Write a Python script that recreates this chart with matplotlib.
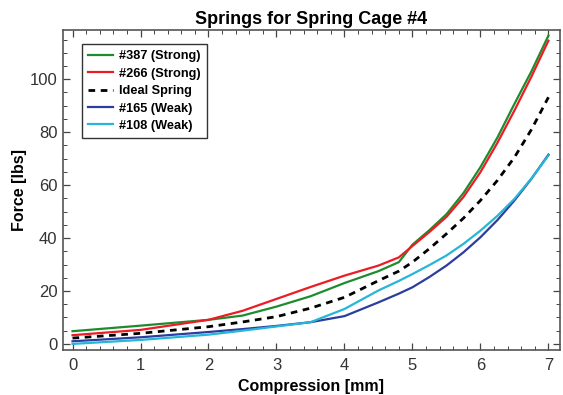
import matplotlib
matplotlib.use("Agg")
import matplotlib.pyplot as plt
from matplotlib.ticker import MultipleLocator

plt.rcParams['font.family'] = ['Liberation Sans', 'DejaVu Sans']

x = [0, 1, 2, 2.5, 3, 3.5, 4, 4.5, 4.8, 5, 5.25, 5.5, 5.75, 6, 6.25, 6.5, 6.75, 7]
s387 = [4.8, 6.9, 9.1, 10.7, 14.1, 18.0, 23.0, 27.5, 30.9, 37.5, 43.0, 49.0, 57.0, 66.8, 78.0, 90.7, 103.0, 116.5]
s266 = [3.3, 5.3, 9.1, 12.5, 17.0, 21.5, 25.8, 29.6, 32.7, 37.0, 42.3, 48.0, 55.5, 64.9, 76.0, 88.2, 101.0, 114.6]
ideal = [2.2, 4.0, 6.5, 8.3, 10.3, 13.5, 17.6, 23.9, 27.5, 30.9, 36.0, 41.6, 47.5, 54.2, 61.8, 70.5, 81.0, 93.2]
s165 = [1.0, 2.5, 4.5, 5.6, 6.8, 8.2, 10.5, 15.7, 19.0, 21.4, 25.3, 29.6, 34.6, 40.3, 46.8, 54.2, 62.4, 71.5]
s108 = [0.0, 1.5, 3.5, 5.0, 6.6, 8.2, 13.2, 20.2, 23.8, 26.4, 29.8, 33.4, 37.8, 42.8, 48.4, 54.8, 62.5, 71.2]

labels = ['#387 (Strong)', '#266 (Strong)', 'Ideal Spring', '#165 (Weak)', '#108 (Weak)']

fig = plt.figure(figsize=(5.63, 3.95), dpi=100)
ax = fig.add_axes([63/563, 1-350/395, (560-63)/563, (350-30)/395])

ax.plot(x, s387, color='#1e8c2e', lw=1.6, label=labels[0])
ax.plot(x, s266, color='#ec1c24', lw=1.6, label=labels[1])
ax.plot(x, ideal, color='black', lw=2.0, ls=(0, (2.4, 2.0)), label=labels[2])
ax.plot(x, s165, color='#2b3d9e', lw=1.6, label=labels[3])
ax.plot(x, s108, color='#27b5d8', lw=1.6, label=labels[4])

ax.set_xlim(-0.14, 7.17)
ax.set_ylim(-2.3, 118.6)
ax.xaxis.set_major_locator(MultipleLocator(1))
ax.xaxis.set_minor_locator(MultipleLocator(0.2))
ax.yaxis.set_major_locator(MultipleLocator(20))
ax.yaxis.set_minor_locator(MultipleLocator(5))
ax.tick_params(which='both', direction='in', top=True, right=True, colors='#444444',
               labelcolor='#333333')
ax.tick_params(which='major', length=5, width=0.9, labelsize=12)
ax.tick_params(which='minor', length=3, width=0.7)
ax.tick_params(axis='x', pad=6)
ax.tick_params(axis='y', pad=4)
for sp in ax.spines.values():
    sp.set_color('#555555')
    sp.set_linewidth(1.2)

ax.set_title('Springs for Spring Cage #4', fontsize=13, fontweight='bold', pad=4)
ax.set_xlabel('Compression [mm]', fontsize=11.5, fontweight='bold', labelpad=4)
ax.set_ylabel('Force [lbs]', fontsize=11.5, fontweight='bold', labelpad=2)

leg = ax.legend(loc='upper left', bbox_to_anchor=(0.038, 0.956), borderaxespad=0,
                fancybox=False, edgecolor='#333333', framealpha=1, handlelength=1.9,
                prop={'weight': 'bold', 'size': 9.2}, borderpad=0.5,
                labelspacing=0.42, handletextpad=0.5)
leg.get_frame().set_linewidth(1.0)

fig.savefig('out.png', dpi=100)
